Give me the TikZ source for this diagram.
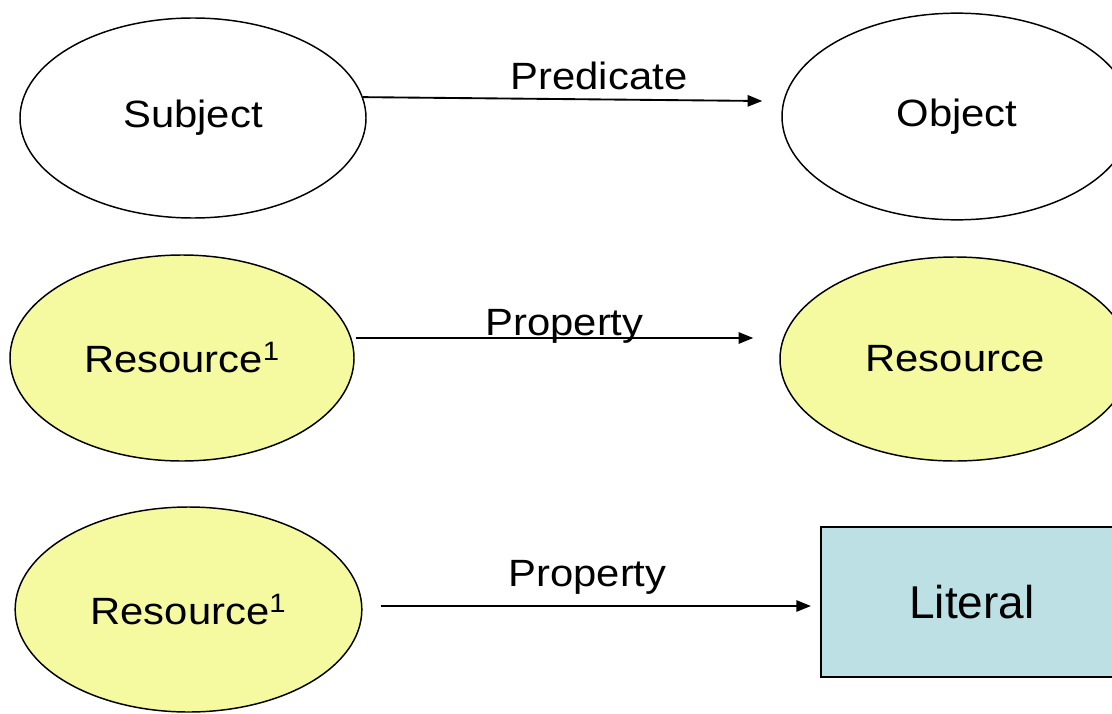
\documentclass[tikz,border=0pt]{standalone}
\usepackage{fontspec}
\setmainfont{Liberation Sans}
\usetikzlibrary{shapes.geometric,arrows.meta,calc}
\definecolor{resyellow}{RGB}{245,250,160}
\definecolor{litblue}{RGB}{188,224,227}
\newcommand{\wide}[1]{\scalebox{1.1}[1]{#1}}
\begin{document}
\begin{tikzpicture}[x=0.75pt,y=-0.75pt,
  txt/.style={font=\fontsize{28.5}{34}\selectfont},
  ell/.style={ellipse,draw,line width=1.1pt,inner sep=0pt,txt},
  res/.style={ell,fill=resyellow},
  litbox/.style={rectangle,draw,line width=1.6pt,fill=litblue,inner sep=0pt,font=\fontsize{34.5}{40}\selectfont},
  arr/.style={line width=1.4pt,-{Triangle[length=11pt,width=8.5pt]}},
  lbl/.style={txt,anchor=base,inner sep=0pt}]
\path[use as bounding box] (0,0) rectangle (1112,713);
\clip (0,0) rectangle (1112,713);
\fill[white] (0,0) rectangle (1112,713);

% row 1
\node[ell,minimum width=259.5pt,minimum height=150pt] (subj) at (193,118) {\wide{Subject}};
\node[ell,minimum width=262.5pt,minimum height=155pt] (obj) at (957,116.5) {\wide{Object}};
\coordinate (e1) at ($(obj.west)+(-19,-15.5)$);
\draw[arr] (subj.7) -- (e1);
\node[lbl] (l1) at (599,90) {\wide{Predicate}};

% row 2
\node[res,minimum width=258pt,minimum height=154.5pt] (ra) at (182,358) {\wide{Resource\textsuperscript{1}}};
\node[res,minimum width=262.5pt,minimum height=153pt] (rb) at (955,359) {\wide{Resource}};
\coordinate (s2) at ($(ra.east)+(1,-20)$);
\coordinate (e2) at ($(rb.west)+(-26,-21)$);
\draw[arr] (s2) -- (e2);
\node[lbl] (l2) at (564.5,335) {\wide{Property}};

% row 3
\node[res,minimum width=260pt,minimum height=153.75pt] (rc) at (188.5,609.5) {\wide{Resource\textsuperscript{1}}};
\node[litbox,minimum width=226.5pt,minimum height=112.5pt] (lit) at (972,602) {Literal};
\coordinate (s3) at ($(rc.east)+(18,-3.5)$);
\coordinate (e3) at ($(lit.west)+(-9,4)$);
\draw[arr] (s3) -- (e3);
\node[lbl] (l3) at (587.5,586) {\wide{Property}};
\end{tikzpicture}
\end{document}
